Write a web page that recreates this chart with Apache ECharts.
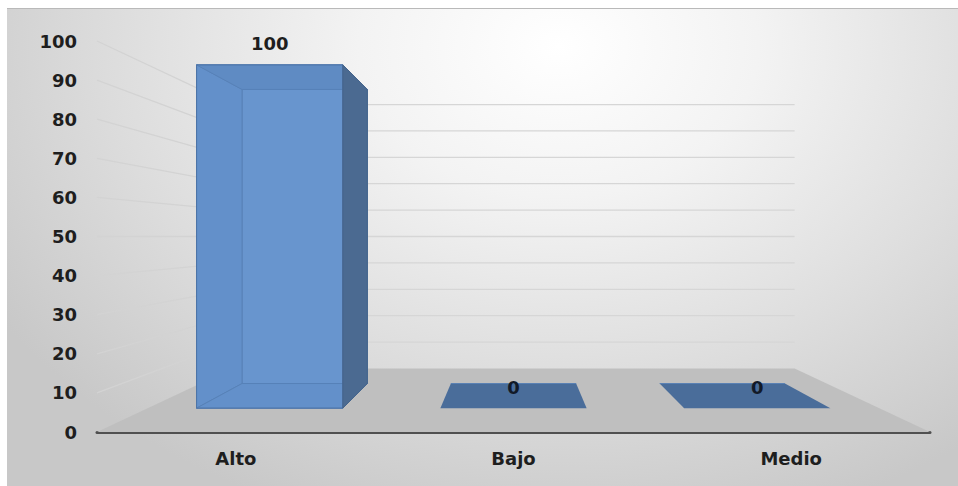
<!DOCTYPE html>
<html>
<head>
<meta charset="utf-8">
<script src="https://cdn.jsdelivr.net/npm/echarts@6/dist/echarts.min.js"></script>
<style>
  html, body { margin: 0; padding: 0; background: #ffffff; }
  #frame {
    position: absolute; left: 7px; top: 8px; width: 951px; height: 478px;
    background: radial-gradient(ellipse 70% 105% at 58% 8%, #ffffff 0%, #f3f3f3 30%, #dedede 65%, #c8c8c8 100%);
    box-shadow: inset 0 1px 0 #b9b9b9;
  }
  #chart { width: 951px; height: 478px; }
</style>
</head>
<body>
<div id="frame"><div id="chart"></div></div>
<script>
// Categories, values and value-axis ticks
const categories = ['Alto', 'Bajo', 'Medio'];
const values = [100, 0, 0];
const yTicks = [0, 10, 20, 30, 40, 50, 60, 70, 80, 90, 100];

// Perspective settings for the 3D look (depth scale factors toward a vanishing point)
const VANISH_X = 0.5;        // fraction of the plot width
const HORIZON_VALUE = 50;    // value level of the horizon
const DEPTH_BACK = 0.675;    // back wall
const DEPTH_BAR_FRONT = 0.878;
const DEPTH_BAR_BACK = 0.752;
const BAR_RATIO = 0.6;       // bar width relative to the category band

const FONT = 'DejaVu Sans';

function project(p, s, V) {
  return [V[0] + s * (p[0] - V[0]), V[1] + s * (p[1] - V[1])];
}

function vanishing(params, api) {
  const cs = params.coordSys;
  return [cs.x + cs.width * VANISH_X, api.coord([0, HORIZON_VALUE])[1]];
}

// Floor, side wall and back wall grid lines
function renderWalls(params, api) {
  const cs = params.coordSys;
  const V = vanishing(params, api);
  const x0 = cs.x, x1 = cs.x + cs.width;
  const v = api.value(1);
  const y = api.coord([0, v])[1];
  const children = [];
  if (v === yTicks[0]) {
    children.push({
      type: 'polygon',
      shape: { points: [[x0, y], [x1, y], project([x1, y], DEPTH_BACK, V), project([x0, y], DEPTH_BACK, V)] },
      style: { fill: '#bfbfbf' }
    });
  } else {
    const bl = project([x0, y], DEPTH_BACK, V);
    const br = project([x1, y], DEPTH_BACK, V);
    children.push({
      type: 'line',
      shape: { x1: x0, y1: y, x2: bl[0], y2: bl[1] },
      style: { stroke: '#d3d3d3', lineWidth: 1.3 }
    });
    children.push({
      type: 'line',
      shape: { x1: bl[0], y1: bl[1], x2: br[0], y2: br[1] },
      style: { stroke: '#d6d6d6', lineWidth: 1.3 }
    });
  }
  return { type: 'group', children: children };
}

// 3D boxes for each category
function renderBars(params, api) {
  const V = vanishing(params, api);
  const idx = api.value(0);
  const val = api.value(1);
  const base = api.coord([idx, 0]);
  const top = api.coord([idx, val]);
  const bw = api.size([1, 0])[0] * BAR_RATIO;
  const X0 = base[0] - bw / 2, X1 = base[0] + bw / 2;
  const Yb = base[1], Yt = top[1];
  const F = DEPTH_BAR_FRONT, B = DEPTH_BAR_BACK;
  const fTL = project([X0, Yt], F, V), fTR = project([X1, Yt], F, V);
  const fBR = project([X1, Yb], F, V), fBL = project([X0, Yb], F, V);
  const bTL = project([X0, Yt], B, V), bTR = project([X1, Yt], B, V);
  const bBR = project([X1, Yb], B, V), bBL = project([X0, Yb], B, V);
  const edge = '#5079ae';
  const children = [];
  const poly = (pts, fill, stroke) => ({
    type: 'polygon', shape: { points: pts },
    style: { fill: fill, stroke: stroke || null, lineWidth: 1 }
  });
  if (val > 0) {
    children.push(poly([bTL, bTR, bBR, bBL], '#6b97cf', edge));
    children.push(poly([fTL, bTL, bBL, fBL], '#6390c9', edge));
    children.push(poly([fBL, fBR, bBR, bBL], '#6390c9', edge));
    children.push(poly([fTL, fTR, bTR, bTL], '#5c87bf', edge));
    children.push(poly([fTL, fTR, fBR, fBL], 'rgba(100,145,203,0.35)', '#4d74a8'));
    if (X1 < V[0]) {
      children.push(poly([fTR, bTR, bBR, fBR], '#4b6a91', '#45648b'));
    } else if (X0 > V[0]) {
      children.push(poly([fTL, bTL, bBL, fBL], '#4b6a91', '#45648b'));
    }
  } else {
    children.push(poly([fTL, fTR, bTR, bTL], '#4a6d9a'));
    children.push({
      type: 'line',
      shape: { x1: bTL[0], y1: bTL[1], x2: bTR[0], y2: bTR[1] },
      style: { stroke: '#5a82b4', lineWidth: 1 }
    });
  }
  children.push({
    type: 'text',
    style: {
      text: String(val),
      x: (fTL[0] + fTR[0]) / 2, y: fTL[1] - 21,
      align: 'center', verticalAlign: 'middle',
      font: 'bold 18px "' + FONT + '"', fill: val > 0 ? '#1e1e1e' : '#121a28'
    }
  });
  return { type: 'group', children: children };
}

const chart = echarts.init(document.getElementById('chart'), null, { renderer: 'svg' });
chart.setOption({
  backgroundColor: 'transparent',
  animation: false,
  grid: { left: 90, right: 28, top: 33, bottom: 54 },
  xAxis: {
    type: 'category',
    data: categories,
    axisLine: { show: true, lineStyle: { color: '#505050', width: 3 } },
    axisTick: { show: false },
    axisLabel: { color: '#1e1e1e', fontSize: 18, fontWeight: 'bold', fontFamily: FONT, margin: 17 }
  },
  yAxis: {
    type: 'value',
    min: yTicks[0],
    max: yTicks[yTicks.length - 1],
    interval: yTicks[1] - yTicks[0],
    axisLine: { show: false },
    axisTick: { show: false },
    splitLine: { show: false },
    axisLabel: { color: '#1e1e1e', fontSize: 18, fontWeight: 'bold', fontFamily: FONT, margin: 20 }
  },
  series: [
    {
      type: 'custom',
      name: 'walls',
      coordinateSystem: 'cartesian2d',
      data: yTicks.map(v => [0, v]),
      renderItem: renderWalls,
      silent: true,
      clip: false,
      z: 1
    },
    {
      type: 'custom',
      name: 'valores',
      coordinateSystem: 'cartesian2d',
      data: values.map((v, i) => [i, v]),
      renderItem: renderBars,
      clip: false,
      z: 3
    }
  ]
});
</script>
</body>
</html>
